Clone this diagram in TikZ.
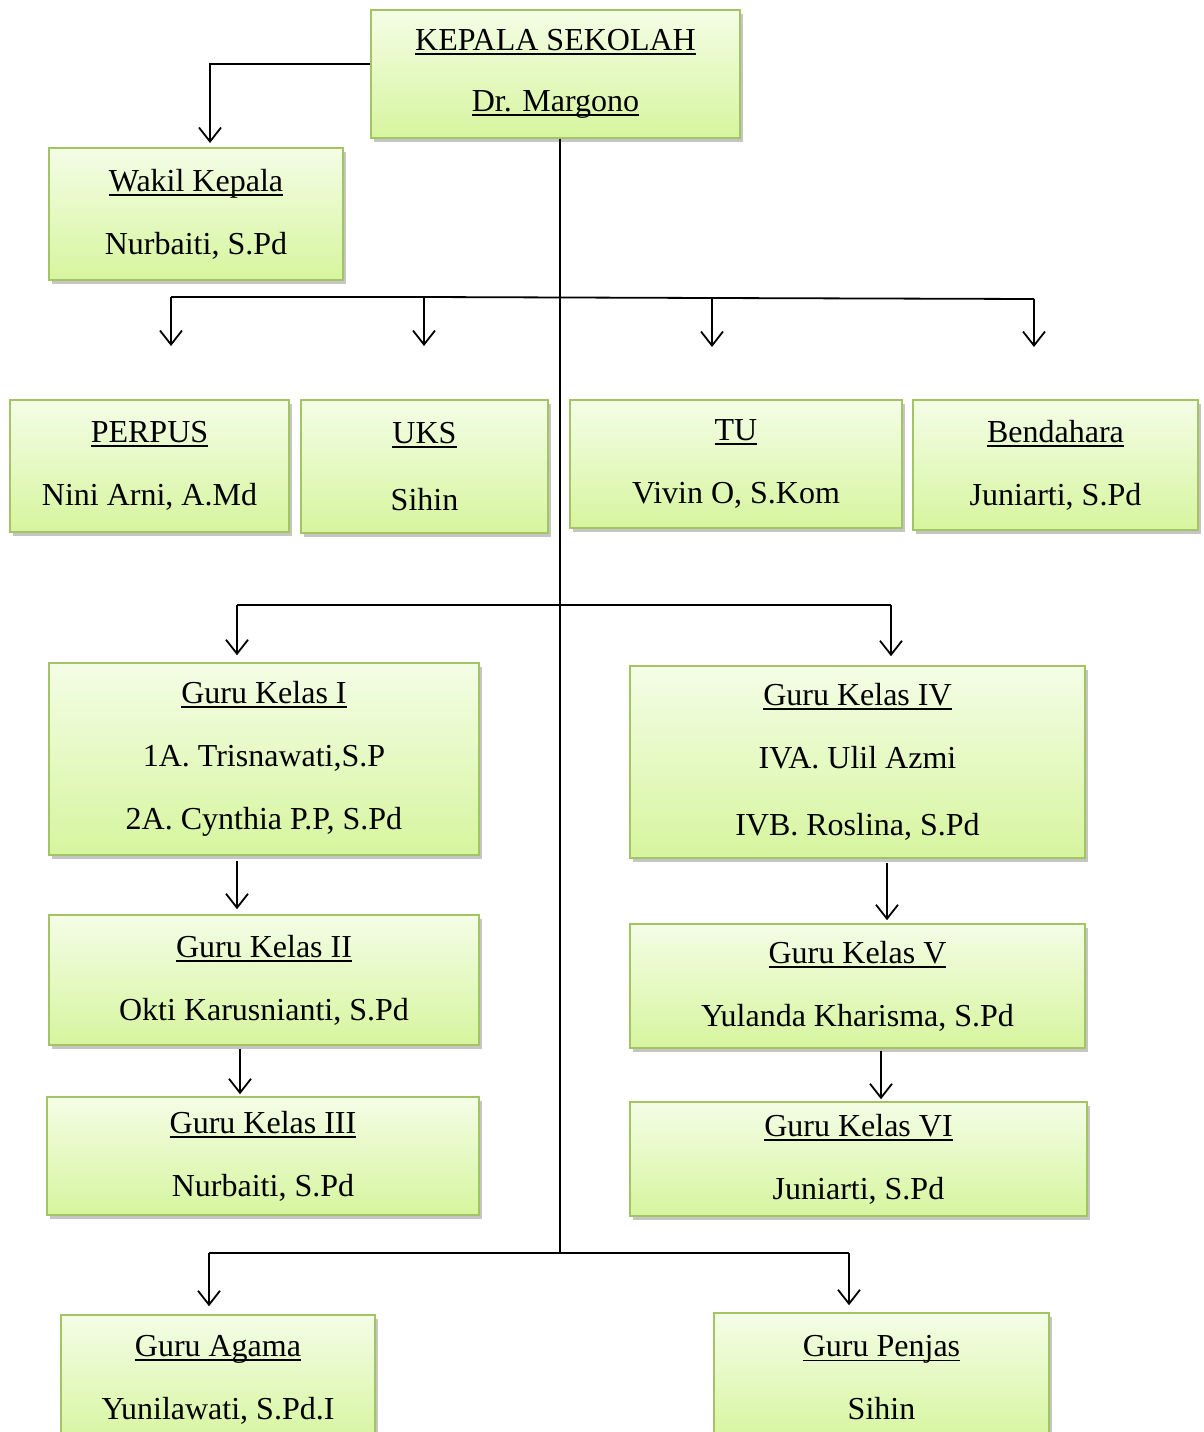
\documentclass[tikz,border=0pt]{standalone}
\usepackage{fontspec}
\setmainfont{Liberation Serif}
\usetikzlibrary{arrows.meta,shadows}
\definecolor{boxtop}{HTML}{F4FDE6}
\definecolor{boxbot}{HTML}{D6F59E}
\definecolor{boxline}{HTML}{A3C462}
\newcommand\myul[1]{\setbox0\hbox{#1}\rlap{\rule[-4.5pt]{\wd0}{1.8pt}}\box0}
\tikzset{
  orgbox/.style={draw=boxline, line width=1.6pt, top color=boxtop, bottom color=boxbot,
    drop shadow={shadow xshift=2.5pt, shadow yshift=-4pt, opacity=0.45},
    align=center, inner sep=0pt, font=\fontsize{32pt}{63pt}\selectfont},
  link/.style={line width=1.8pt, draw=black},
  arr/.style={link, -{Straight Barb[length=14pt,width=22pt,line width=1.8pt]}}
}
\begin{document}
\begin{tikzpicture}[x=1pt,y=1pt]
\useasboundingbox (0,0) rectangle (1203,-1432);
\clip (0,0) rectangle (1203,-1432);
\fill[white] (0,0) rectangle (1203,-1432);

% boxes
\node[orgbox, minimum width=369pt, minimum height=128pt] (kepala) at (555.5,-74) {\raisebox{-3pt}{\myul{KEPALA SEKOLAH}}\\\raisebox{-1pt}{\myul{Dr. Margono}}};
\node[orgbox, minimum width=294pt, minimum height=132pt] (wakil) at (196,-214) {\myul{Wakil Kepala}\\Nurbaiti, S.Pd};
\node[orgbox, minimum width=279pt, minimum height=132pt] (perpus) at (149.5,-466) {\myul{PERPUS}\\Nini Arni, A.Md};
\node[orgbox, minimum width=247pt, minimum height=133pt] (uks) at (424.5,-466.5) {\myul{UKS}\\[4pt]Sihin};
\node[orgbox, minimum width=332pt, minimum height=128pt] (tu) at (736,-464) {\myul{TU}\\Vivin O, S.Kom};
\node[orgbox, minimum width=285pt, minimum height=130pt] (bend) at (1055.5,-465) {\myul{Bendahara}\\Juniarti, S.Pd};
\node[orgbox, minimum width=430pt, minimum height=192pt] (gk1) at (264,-759) {\myul{Guru Kelas I}\\1A. Trisnawati,S.P\\2A. Cynthia P.P, S.Pd};
\node[orgbox, minimum width=455pt, minimum height=192pt] (gk4) at (857.5,-762) {\myul{Guru Kelas IV}\\IVA. Ulil Azmi\\[4pt]IVB. Roslina, S.Pd};
\node[orgbox, minimum width=430pt, minimum height=130pt] (gk2) at (264,-980) {\myul{Guru Kelas II}\\Okti Karusnianti, S.Pd};
\node[orgbox, minimum width=455pt, minimum height=124pt] (gk5) at (857.5,-986) {\myul{Guru Kelas V}\\Yulanda Kharisma, S.Pd};
\node[orgbox, minimum width=432pt, minimum height=118pt] (gk3) at (263,-1156) {\myul{Guru Kelas III}\\Nurbaiti, S.Pd};
\node[orgbox, minimum width=457pt, minimum height=114pt] (gk6) at (858.5,-1159) {\myul{Guru Kelas VI}\\Juniarti, S.Pd};
\node[orgbox, minimum width=314pt, minimum height=130pt] (agama) at (218,-1380) {\myul{Guru Agama}\\Yunilawati, S.Pd.I};
\node[orgbox, minimum width=335pt, minimum height=130pt] (penjas) at (881.5,-1378) {\myul{Guru Penjas}\\Sihin};

% spine
\coordinate (spineEnd) at (560,-1253);
\draw[link] ([xshift=4.5pt]kepala.south) -- (spineEnd);

% kepala -> wakil
\coordinate (wk) at (210,-143);
\draw[arr] ([yshift=10pt]kepala.west) -| (wk);

% staff bus
\coordinate (s1) at (171,-297);
\coordinate (s2) at (424,-297);
\coordinate (s3) at (712,-298);
\coordinate (s4) at (1034,-299);
\draw[link] (s1) -- (s2) -- (s3) -- (s4);
\draw[arr] (s1) -- ++(0,-49);
\draw[arr] (s2) -- ++(0,-49);
\draw[arr] (s3) -- ++(0,-49);
\draw[arr] (s4) -- ++(0,-48);

% teacher bus
\coordinate (t1) at (237,-605);
\coordinate (t2) at (891,-605);
\draw[link] (t1) -- (t2);
\draw[arr] (t1) -- ([xshift=-27pt,yshift=7pt]gk1.north);
\draw[arr] (t2) -- ([xshift=33.5pt,yshift=9pt]gk4.north);

% chains
\draw[arr] ([xshift=-27pt,yshift=-5pt]gk1.south) -- ([xshift=-27pt,yshift=5pt]gk2.north);
\draw[arr] ([xshift=-24pt,yshift=-3pt]gk2.south) -- ([xshift=-23pt,yshift=2pt]gk3.north);
\draw[arr] ([xshift=29.5pt,yshift=-4pt]gk4.south) -- ([xshift=29.5pt,yshift=3pt]gk5.north);
\draw[arr] ([xshift=23.5pt,yshift=-2pt]gk5.south) -- ([xshift=22.5pt,yshift=2pt]gk6.north);

% bottom bus
\coordinate (u1) at (209,-1253);
\coordinate (u2) at (849,-1253);
\draw[link] (u1) -- (u2);
\draw[arr] (u1) -- ([xshift=-9pt,yshift=8pt]agama.north);
\draw[arr] (u2) -- ([xshift=-32.5pt,yshift=7pt]penjas.north);
\end{tikzpicture}
\end{document}
